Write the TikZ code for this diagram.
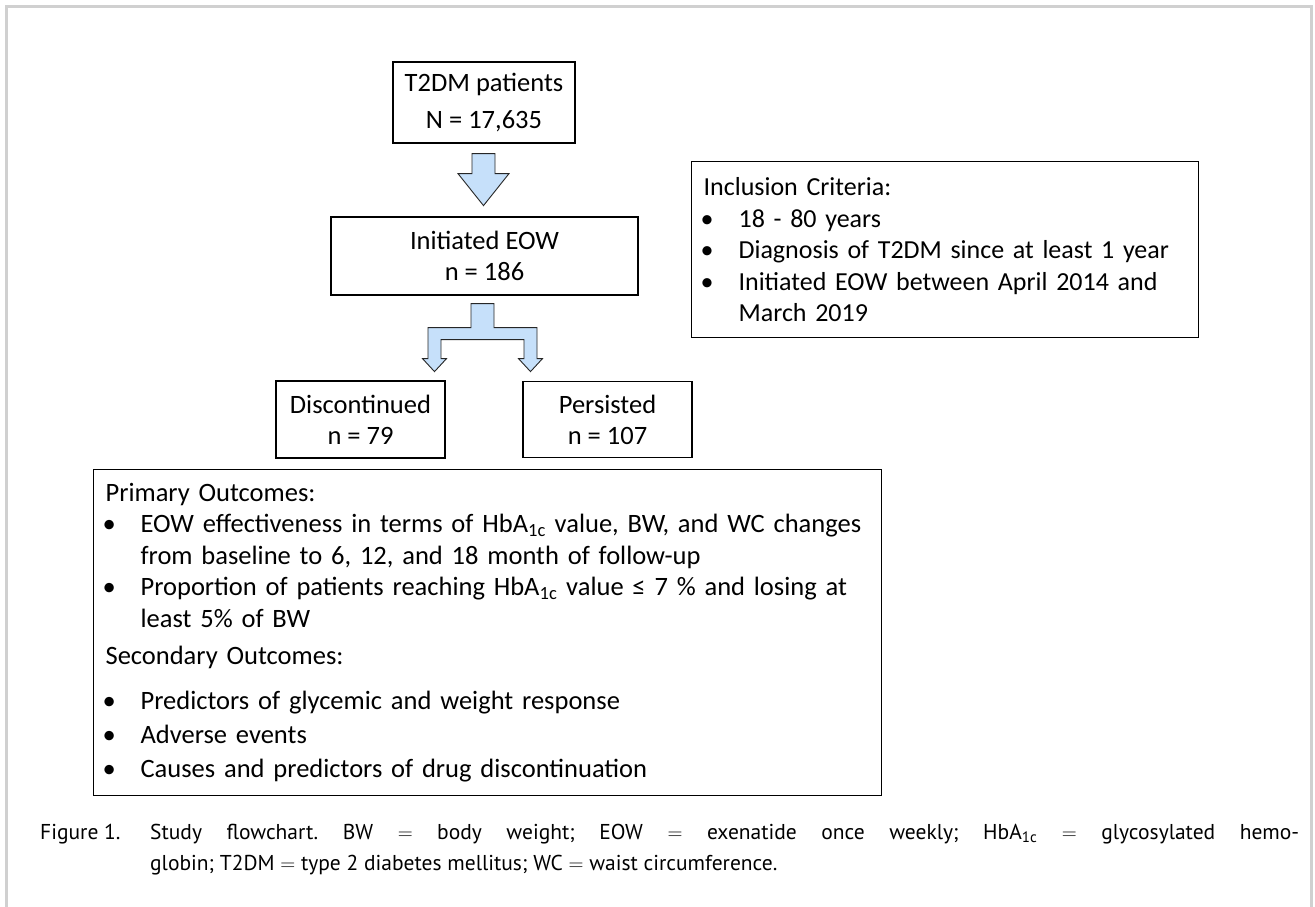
\documentclass[tikz,border=0pt]{standalone}
\usepackage{fontspec}
\setmainfont{Carlito}
\newfontfamily\capfont{PT Sans}
\usetikzlibrary{calc,positioning}

\definecolor{arrowblue}{RGB}{198,224,250}
\definecolor{framegray}{RGB}{208,208,208}
\hyphenpenalty=10000

% bullet line with hanging indent
\newcommand{\bitem}[1]{\par\noindent\hangindent=35pt\hangafter=1\hbox to 35pt{\hspace{-3pt}\textbullet\hfil}#1}

\tikzset{
	box/.style={draw, line width=1.2pt, align=center, inner sep=0pt, font=\fontsize{26.5}{31}\selectfont},
	listbox/.style={draw, line width=1.2pt, inner xsep=12pt, inner ysep=0pt, font=\fontsize{26}{31.5}\selectfont},
	blockarrow/.style={draw=black!85, line width=0.9pt, fill=arrowblue, line join=miter},
	captext/.style={inner sep=0pt, font=\capfont\fontsize{21.5}{31}\selectfont},
}

\begin{document}
\frenchspacing
\begin{tikzpicture}[x=1pt,y=-1pt]
	\useasboundingbox (0,0) rectangle (1315,907);
	\draw[framegray, line width=3pt] (6.5,907) -- (6.5,6.5) -- (1311.5,6.5) -- (1311.5,907);

	% flow boxes
	\node[box, minimum width=182pt, minimum height=81pt, font=\fontsize{26.5}{37}\selectfont] (pat) at (484,102.5) {T2DM patients\\N = 17,635};
	\node[box, minimum width=307pt, minimum height=78pt] (init) at (484.5,256) {Initiated EOW\\n = 186};
	\node[box, minimum width=169pt, minimum height=77pt] (disc) at (360.5,419.5) {Discontinued\\n = 79};
	\node[box, minimum width=169pt, minimum height=76pt] (pers) at (607.5,419.5) {Persisted\\n = 107};

	% criteria and outcomes
	\node[listbox, anchor=north west, text width=483pt, minimum height=176pt] (incl) at (691,161) {\raggedright Inclusion Criteria:
		\bitem{18 - 80 years}
		\bitem{Diagnosis of T2DM since at least 1 year}
		\bitem{Initiated EOW between April 2014 and\newline March 2019}\par};
	\node[listbox, anchor=north west, text width=764pt, minimum height=326pt, font=\fontsize{26.5}{31.5}\selectfont] (outc) at (93,469) {\raggedright Primary Outcomes:
		\bitem{EOW effectiveness in terms of HbA\textsubscript{1c} value, BW, and WC changes\newline from baseline to 6, 12, and 18 month of follow-up}
		\bitem{Proportion of patients reaching HbA\textsubscript{1c} value ≤ 7 \% and losing at\newline least 5\% of BW}
		\par\vspace{6pt}\noindent Secondary Outcomes:\par\vspace{13pt}
		\bitem{Predictors of glycemic and weight response}\par\vspace{2.5pt}
		\bitem{Adverse events}\par\vspace{2.5pt}
		\bitem{Causes and predictors of drug discontinuation}\par};

	% block arrows
	\coordinate (darr) at ($(pat.south)+(-0.5,10)$);
	\coordinate (sarr) at ($(init.south)+(-2,8)$);
	\draw[blockarrow, shift={(darr)}] (-11.5,0) -- (11.5,0) -- (11.5,20) -- (25.5,20) -- (0,52) -- (-25.5,20) -- (-11.5,20) -- cycle;
	\draw[blockarrow, shift={(sarr)}] (-11.5,0) -- (11.5,0) -- (11.5,24) -- (54.5,24) -- (54.5,55) -- (60,55) -- (48,68) -- (36,55) -- (41.5,55) -- (41.5,36)
		-- (-41.5,36) -- (-41.5,55) -- (-36,55) -- (-48,68) -- (-60,55) -- (-54.5,55) -- (-54.5,24) -- (-11.5,24) -- cycle;

	% caption
	\node[captext, anchor=north west] (fig) at (40,823.5) {Figure 1.};
	\node[captext, anchor=north west, text width=1149pt, align=justify] (cap) at (150,823.5) {Study flowchart. BW $=$ body weight; EOW $=$ exenatide once weekly; HbA\textsubscript{1c} $=$ glycosylated hemo-\linebreak globin; T2DM $=$ type 2 diabetes mellitus; WC $=$ waist circumference.};
\end{tikzpicture}
\end{document}
